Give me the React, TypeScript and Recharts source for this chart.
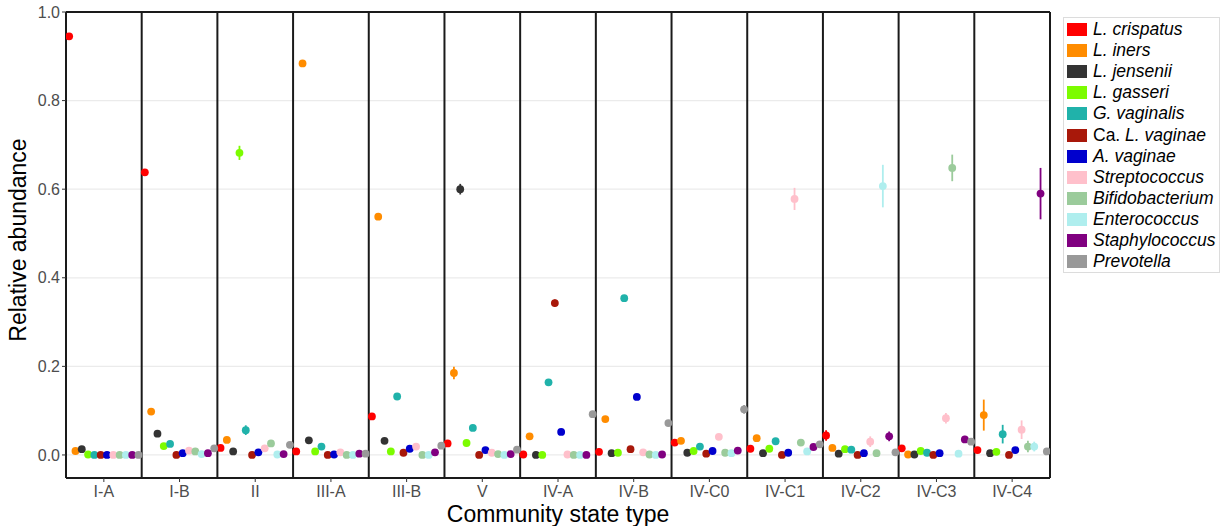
import { ScatterChart, Scatter, XAxis, YAxis, CartesianGrid, ReferenceLine, ErrorBar } from "recharts";

const categories = ["I-A", "I-B", "II", "III-A", "III-B", "V", "IV-A", "IV-B", "IV-C0", "IV-C1", "IV-C2", "IV-C3", "IV-C4"];

// mean relative abundance per CST, in category order
const crispatus = [0.945, 0.638, 0.016, 0.008, 0.087, 0.026, 0.001, 0.007, 0.028, 0.014, 0.044, 0.015, 0.011];
const iners = [0.009, 0.098, 0.034, 0.884, 0.538, 0.185, 0.042, 0.081, 0.032, 0.038, 0.016, 0.001, 0.09];
const jensenii = [0.013, 0.048, 0.008, 0.033, 0.032, 0.6, 0.0, 0.004, 0.005, 0.004, 0.003, 0.001, 0.004];
const gasseri = [0.001, 0.02, 0.682, 0.008, 0.008, 0.027, 0.0, 0.005, 0.009, 0.014, 0.013, 0.009, 0.007];
const gVaginalis = [0.0, 0.025, 0.056, 0.019, 0.132, 0.061, 0.164, 0.354, 0.019, 0.031, 0.012, 0.005, 0.047];
const caVaginae = [0.0, 0.0, 0.0, 0.0, 0.005, 0.0, 0.343, 0.013, 0.003, 0.0, 0.0, 0.0, 0.0];
const aVaginae = [0.0, 0.004, 0.006, 0.001, 0.014, 0.011, 0.052, 0.131, 0.009, 0.005, 0.004, 0.004, 0.011];
const streptococcus = [0.0, 0.01, 0.015, 0.006, 0.019, 0.005, 0.001, 0.006, 0.041, 0.578, 0.03, 0.083, 0.057];
const bifidobacterium = [0.0, 0.008, 0.026, 0.0, 0.0, 0.002, 0.0, 0.001, 0.005, 0.028, 0.004, 0.648, 0.019];
const enterococcus = [0.0, 0.002, 0.001, 0.0, 0.0, 0.0, 0.0, 0.0, 0.004, 0.008, 0.607, 0.003, 0.019];
const staphylococcus = [0.0, 0.004, 0.002, 0.003, 0.006, 0.002, 0.0, 0.001, 0.01, 0.018, 0.042, 0.035, 0.59];
const prevotella = [0.0, 0.015, 0.023, 0.003, 0.021, 0.012, 0.092, 0.072, 0.103, 0.024, 0.006, 0.03, 0.008];

// standard errors
const crispatusSe = [0.004, 0.005, 0.003, 0.002, 0.005, 0.004, 0.001, 0.002, 0.005, 0.004, 0.012, 0.004, 0.004];
const inersSe = [0.002, 0.005, 0.005, 0.004, 0.005, 0.014, 0.004, 0.004, 0.004, 0.006, 0.004, 0.001, 0.035];
const jenseniiSe = [0.002, 0.004, 0.002, 0.003, 0.003, 0.012, 0.0, 0.001, 0.002, 0.002, 0.001, 0.001, 0.002];
const gasseriSe = [0.001, 0.003, 0.016, 0.002, 0.002, 0.004, 0.0, 0.002, 0.003, 0.004, 0.007, 0.003, 0.003];
const gVaginalisSe = [0.0, 0.003, 0.011, 0.003, 0.005, 0.005, 0.005, 0.005, 0.003, 0.004, 0.004, 0.002, 0.021];
const caVaginaeSe = [0.0, 0.0, 0.0, 0.0, 0.002, 0.0, 0.008, 0.003, 0.002, 0.0, 0.0, 0.0, 0.0];
const aVaginaeSe = [0.0, 0.002, 0.002, 0.001, 0.003, 0.003, 0.004, 0.005, 0.002, 0.002, 0.001, 0.001, 0.004];
const streptococcusSe = [0.0, 0.002, 0.003, 0.002, 0.003, 0.002, 0.001, 0.002, 0.004, 0.025, 0.012, 0.012, 0.021];
const bifidobacteriumSe = [0.0, 0.002, 0.003, 0.0, 0.0, 0.001, 0.0, 0.001, 0.002, 0.005, 0.002, 0.03, 0.013];
const enterococcusSe = [0.0, 0.001, 0.001, 0.0, 0.0, 0.0, 0.0, 0.0, 0.001, 0.003, 0.048, 0.001, 0.011];
const staphylococcusSe = [0.0, 0.001, 0.001, 0.001, 0.002, 0.001, 0.0, 0.001, 0.002, 0.004, 0.011, 0.008, 0.058];
const prevotellaSe = [0.0, 0.003, 0.004, 0.001, 0.003, 0.003, 0.004, 0.004, 0.01, 0.005, 0.002, 0.004, 0.003];

const species = [
	{ key: "crispatus", label: [["L. crispatus", true]], color: "#FF0000", values: crispatus, se: crispatusSe },
	{ key: "iners", label: [["L. iners", true]], color: "#FF8C00", values: iners, se: inersSe },
	{ key: "jensenii", label: [["L. jensenii", true]], color: "#333333", values: jensenii, se: jenseniiSe },
	{ key: "gasseri", label: [["L. gasseri", true]], color: "#7CFC00", values: gasseri, se: gasseriSe },
	{ key: "gvag", label: [["G. vaginalis", true]], color: "#20B2AA", values: gVaginalis, se: gVaginalisSe },
	{ key: "cavag", label: [["Ca. ", false], ["L. vaginae", true]], color: "#A8180A", values: caVaginae, se: caVaginaeSe },
	{ key: "avag", label: [["A. vaginae", true]], color: "#0000CD", values: aVaginae, se: aVaginaeSe },
	{ key: "strep", label: [["Streptococcus", true]], color: "#FFC0CB", values: streptococcus, se: streptococcusSe },
	{ key: "bifido", label: [["Bifidobacterium", true]], color: "#9BCB9B", values: bifidobacterium, se: bifidobacteriumSe },
	{ key: "entero", label: [["Enterococcus", true]], color: "#AFEEEE", values: enterococcus, se: enterococcusSe },
	{ key: "staph", label: [["Staphylococcus", true]], color: "#800080", values: staphylococcus, se: staphylococcusSe },
	{ key: "prev", label: [["Prevotella", true]], color: "#999999", values: prevotella, se: prevotellaSe },
];

const yTicks = [0, 0.2, 0.4, 0.6, 0.8, 1.0];
const font = '"Liberation Sans", Arial, Helvetica, sans-serif';
const n = species.length;

export default function App() {
	const xTicks = categories.map((_, i) => i + 0.5);
	const seps = categories.slice(1).map((_, i) => i + 1);

	return (
		<div style={{ position: "absolute", left: 0, top: 0, width: 1226, height: 526, fontFamily: font, background: "#fff" }}>
			<ScatterChart width={1055} height={526} margin={{ top: 12, right: 5, bottom: 0, left: 0 }}>
				<CartesianGrid vertical={false} stroke="#ebebeb" strokeWidth={1.2} />
				<XAxis
					type="number"
					dataKey="x"
					domain={[0, 13]}
					ticks={xTicks}
					interval={0}
					allowDataOverflow
					tickFormatter={(v) => categories[Math.floor(v)]}
					height={48}
					tickSize={4}
					tickMargin={4}
					tick={{ fill: "#4d4d4d", fontSize: 16, fontFamily: font }}
					tickLine={{ stroke: "#333" }}
					axisLine={{ stroke: "#1a1a1a", strokeWidth: 2 }}
				/>
				<YAxis
					type="number"
					dataKey="y"
					domain={[-0.052, 1]}
					ticks={yTicks}
					interval={0}
					allowDataOverflow
					tickFormatter={(v) => Number(v).toFixed(1)}
					width={66}
					tickSize={4}
					tick={{ fill: "#4d4d4d", fontSize: 16, fontFamily: font }}
					tickLine={{ stroke: "#333" }}
					axisLine={{ stroke: "#1a1a1a", strokeWidth: 2 }}
				/>
				{seps.map((s) => (
					<ReferenceLine key={s} x={s} stroke="#1a1a1a" strokeWidth={2} />
				))}
				<ReferenceLine x={13} stroke="#1a1a1a" strokeWidth={2} />
				<ReferenceLine y={1} stroke="#1a1a1a" strokeWidth={2} />
				{species.map((sp, si) => {
					const data = categories.map((c, ci) => ({ x: ci + (si + 0.5) / n, y: sp.values[ci], err: sp.se[ci], cst: c }));
					return (
						<Scatter
							key={sp.key}
							name={sp.key}
							data={data}
							fill={sp.color}
							isAnimationActive={false}
							shape={(p: any) => <circle cx={p.cx} cy={p.cy} r={3.9} fill={sp.color} />}
						>
							<ErrorBar dataKey="err" direction="y" width={0} stroke={sp.color} strokeWidth={1.8} />
						</Scatter>
					);
				})}
			</ScatterChart>

			<div
				style={{
					position: "absolute",
					left: 18,
					top: 240,
					transform: "translate(-50%, -50%) rotate(-90deg)",
					fontSize: 23,
					whiteSpace: "nowrap",
					color: "#000",
				}}
			>
				Relative abundance
			</div>
			<div style={{ position: "absolute", left: 558, top: 514, transform: "translate(-50%, -50%)", fontSize: 23, whiteSpace: "nowrap", color: "#000" }}>
				Community state type
			</div>

			<div
				style={{
					position: "absolute",
					left: 1063,
					top: 17,
					width: 157,
					height: 256,
					border: "1px solid #dcdcdc",
					boxSizing: "border-box",
					paddingTop: 1,
				}}
			>
				{species.map((sp) => (
					<div key={sp.key} style={{ display: "flex", alignItems: "center", height: 21.1 }}>
						<span style={{ display: "inline-block", width: 20, height: 13, background: sp.color, marginLeft: 3, marginRight: 6, flexShrink: 0 }} />
						<span style={{ fontSize: 17.5, color: "#000", whiteSpace: "nowrap" }}>
							{sp.label.map(([t, it], k) => (
								<span key={k} style={{ fontStyle: it ? "italic" : "normal" }}>
									{t as string}
								</span>
							))}
						</span>
					</div>
				))}
			</div>
		</div>
	);
}
